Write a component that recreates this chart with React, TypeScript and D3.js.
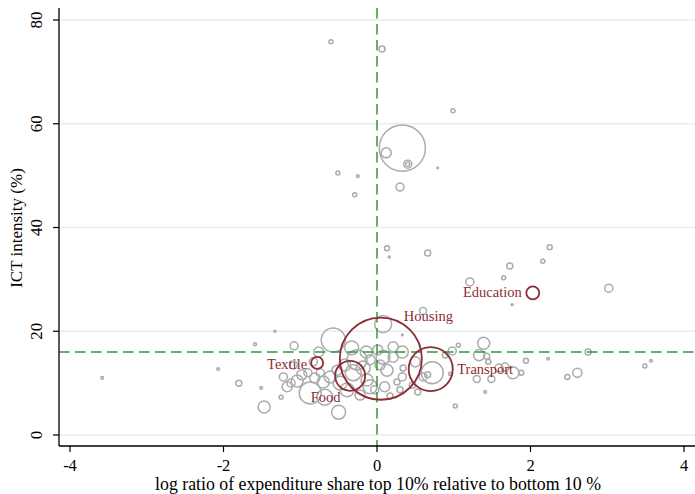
import React from "react";
import * as d3 from "d3";

// ---- data ----
const sectorNames = ["Housing", "Food", "Transport", "Textile", "Education"];
const sectorX = [0.05, -0.35, 0.70, -0.78, 2.03];
const sectorY = [14.7, 11.4, 12.7, 13.9, 27.4];
const sectorW = [187, 25, 54, 4, 4.7];

// [logRatio, ictIntensity, weight]
const otherItems: [number, number, number][] = [
  [-0.60, 75.8, 0.44], [0.065, 74.4, 1], [0.99, 62.5, 0.44], [0.33, 55.3, 59],
  [0.12, 54.4, 2.8], [0.40, 52.2, 1.78], [0.40, 52.2, 0.44], [0.79, 51.5, 0.07],
  [-0.51, 50.5, 0.44], [-0.25, 49.9, 0.2], [-0.29, 46.3, 0.44], [0.30, 47.8, 1.78],
  [0.13, 36.0, 0.7], [0.16, 34.3, 0.11], [0.66, 35.1, 1], [2.25, 36.2, 0.7],
  [2.16, 33.5, 0.44], [1.73, 32.6, 1], [1.65, 30.3, 0.44], [1.21, 29.5, 1.78],
  [3.02, 28.3, 1.78], [1.76, 25.1, 0.11], [0.60, 23.9, 1.36], [0.08, 21.4, 8],
  [1.39, 17.7, 4], [1.06, 17.3, 0.44], [0.98, 16.2, 1.78], [0.89, 15.4, 1],
  [1.33, 15.4, 3.4], [1.43, 15.2, 1], [1.45, 14.1, 0.7], [1.94, 14.3, 0.7],
  [2.23, 14.7, 0.2], [2.75, 16.0, 1], [3.49, 13.3, 0.44], [3.57, 14.3, 0.2],
  [0.72, 12.0, 13.4], [1.59, 12.9, 1.78], [1.67, 13.1, 1.78], [1.77, 12.0, 4],
  [1.88, 12.0, 0.7], [1.49, 10.8, 1.36], [1.30, 10.8, 1.36], [2.48, 11.2, 0.7],
  [2.61, 12.0, 2.25], [1.41, 8.3, 0.2], [1.02, 5.6, 0.44], [0.95, 11.8, 0.25],
  [0.60, 11.2, 1.78], [0.66, 11.6, 1], [0.33, 19.3, 0.07],
  [0.21, 17.0, 2.8], [0.33, 16.0, 4], [0.34, 12.9, 1], [0.33, 11.2, 1.78],
  [0.26, 10.2, 1], [0.30, 8.7, 1], [0.08, 15.0, 5.4], [0.13, 12.5, 4],
  [0.04, 13.5, 2.8], [0.21, 15.0, 2.8], [0.01, 16.4, 2.8], [-0.09, 14.5, 2.8],
  [0.10, 9.3, 2.8], [-0.03, 8.7, 1.78], [0.50, 14.1, 2.8], [0.46, 9.6, 1],
  [0.53, 8.3, 1], [0.17, 7.5, 1],
  [-0.26, 14.5, 11.1], [-0.18, 12.9, 5.4], [-0.13, 10.6, 4], [-0.09, 9.3, 5.4],
  [-0.31, 12.0, 7.1], [-0.33, 16.8, 5.4], [-0.57, 18.3, 16], [-0.48, 10.0, 5.4],
  [-0.39, 8.7, 5.4], [-0.61, 11.2, 4], [-0.70, 10.2, 4], [-0.74, 12.0, 1.78],
  [-0.81, 11.0, 2.8], [-0.90, 12.0, 1.78], [-0.98, 11.6, 2.8], [-1.09, 13.5, 1.78],
  [-0.87, 8.1, 13.4], [-0.68, 7.3, 7.1], [-0.50, 4.4, 5.4], [-0.76, 16.0, 2.8],
  [-1.08, 17.2, 1.78], [-1.33, 20.0, 0.11], [-1.59, 17.5, 0.25], [-1.47, 5.4, 4],
  [-1.25, 7.3, 0.44], [-1.51, 9.1, 0.2], [-1.12, 10.0, 1.78], [-1.22, 11.2, 1.78],
  [-1.04, 10.4, 4], [-1.17, 9.3, 2.8], [-1.80, 10.0, 1], [-2.07, 12.7, 0.2],
  [-3.58, 11.0, 0.2], [-0.22, 7.7, 2.8], [-0.42, 13.5, 4], [-0.52, 12.5, 2.8],
  [-0.83, 14.1, 1.78], [-0.14, 16.0, 4],
];

const xTicks = [-4, -2, 0, 2, 4];
const yTicks = [0, 20, 40, 60, 80];
const refX = 0;
const refY = 16;
const xTitle = "log ratio of expenditure share top 10% relative to bottom 10 %";
const yTitle = "ICT intensity (%)";

// ---- layout / style ----
const W = 695;
const H = 494;
const left = 59;
const right = 695;
const axisTop = 8;
const axisBottom = 446;
const FONT = "'Liberation Serif', 'Times New Roman', serif";
const RED = "#8b2c36";
const GREY = "#ababab";
const GREEN = "#2f9a35";

const labelPlacement: Record<string, { dx: number; dy: number; anchor: string }> = {
  Housing: { dx: 23, dy: -37.5, anchor: "start" },
  Food: { dx: -24.5, dy: 26, anchor: "middle" },
  Transport: { dx: 26.5, dy: 4.5, anchor: "start" },
  Textile: { dx: -10, dy: 6, anchor: "end" },
  Education: { dx: -11, dy: 4.5, anchor: "end" },
};

export default function App() {
  const x = d3.scaleLinear().domain([-4, 4]).range([70, 684]);
  const y = d3.scaleLinear().domain([0, 80]).range([435, 20]);
  const r = d3.scaleSqrt().domain([0, 100]).range([0, 30]);

  return (
    <svg
      width={W}
      height={H}
      style={{ position: "absolute", left: 0, top: 0, background: "#fff" }}
      fontFamily={FONT}
    >
      <rect x={0} y={0} width={W} height={H} fill="#fff" />
      {yTicks.map((t) => (
        <line key={"g" + t} x1={left} x2={right} y1={y(t)} y2={y(t)} stroke="#e6edf1" strokeWidth={1.5} />
      ))}
      {otherItems.map((d, i) => (
        <circle
          key={"o" + i}
          cx={x(d[0])}
          cy={y(d[1])}
          r={r(d[2])}
          fill="none"
          stroke={GREY}
          strokeWidth={1.5}
        />
      ))}
      <line x1={x(refX)} x2={x(refX)} y1={axisTop} y2={axisBottom} stroke={GREEN} strokeWidth={1.5} strokeDasharray="10.5 5.5" />
      <line x1={left} x2={right} y1={y(refY)} y2={y(refY)} stroke={GREEN} strokeWidth={1.5} strokeDasharray="10.5 5.5" />
      {sectorNames.map((n, i) => (
        <circle key={"s" + n} cx={x(sectorX[i])} cy={y(sectorY[i])} r={r(sectorW[i])} fill="none" stroke={RED} strokeWidth={1.8} />
      ))}
      {sectorNames.map((n, i) => {
        const p = labelPlacement[n];
        return (
          <text key={"l" + n} x={x(sectorX[i]) + p.dx} y={y(sectorY[i]) + p.dy} textAnchor={p.anchor} fontSize={14.5} fill={RED}>
            {n}
          </text>
        );
      })}
      <line x1={left} x2={left} y1={axisTop} y2={axisBottom} stroke="#000" strokeWidth={1.3} />
      <line x1={left} x2={right} y1={axisBottom} y2={axisBottom} stroke="#000" strokeWidth={1.3} />
      {yTicks.map((t) => (
        <g key={"yt" + t}>
          <line x1={left - 6} x2={left} y1={y(t)} y2={y(t)} stroke="#000" strokeWidth={1.2} />
          <text transform={`translate(42,${y(t)}) rotate(-90)`} textAnchor="middle" fontSize={17} fill="#000">
            {t}
          </text>
        </g>
      ))}
      {xTicks.map((t) => (
        <g key={"xt" + t}>
          <line x1={x(t)} x2={x(t)} y1={axisBottom} y2={axisBottom + 6} stroke="#000" strokeWidth={1.2} />
          <text x={x(t)} y={470.5} textAnchor="middle" fontSize={16.5} fill="#000">
            {t < 0 ? "-" + Math.abs(t) : String(t)}
          </text>
        </g>
      ))}
      <text x={378} y={490.3} textAnchor="middle" fontSize={17.8} fill="#000">
        {xTitle}
      </text>
      <text transform={`translate(22,228) rotate(-90)`} textAnchor="middle" fontSize={17} fill="#000">
        {yTitle}
      </text>
    </svg>
  );
}
